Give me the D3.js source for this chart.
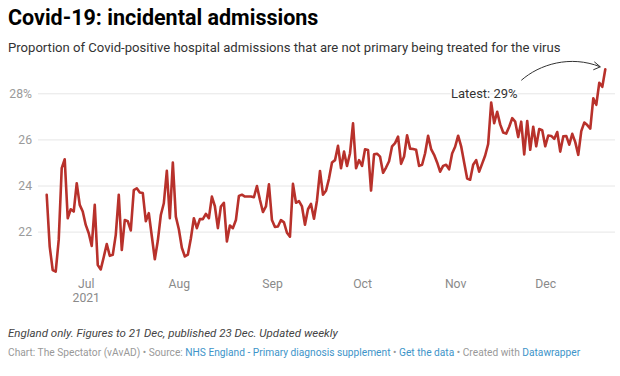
<!DOCTYPE html>
<html>
<head>
<meta charset="utf-8">
<script src="https://cdn.jsdelivr.net/npm/d3@7"></script>
<style>
  html, body { margin: 0; padding: 0; background: #fff; }
  svg { display: block; font-family: Roboto, "Noto Sans", sans-serif; }
</style>
</head>
<body>
<svg id="chart" width="620" height="376"></svg>
<script>
// ---- Data ----
const startDate = "2021-06-18"; // first daily observation
const values = [
  23.6, 21.35, 20.33, 20.26, 21.64, 24.75, 25.14, 22.58, 22.97, 22.87,
  24.1, 23.16, 22.87, 22.29, 21.93, 21.38, 23.16, 20.55, 20.36, 20.9,
  21.46, 20.95, 20.99, 21.86, 23.6, 21.2, 22.5, 22.45, 22.05, 23.8,
  23.88, 23.7, 23.67, 22.45, 22.8, 21.8, 20.8, 21.6, 22.72, 23.23,
  24.64, 22.58, 25.0, 22.65, 22.1, 21.3, 20.92, 21.0, 21.7, 22.58,
  22.15, 22.54, 22.54, 22.77, 22.58, 23.52, 23.1, 22.15, 23.09, 23.25,
  21.57, 22.26, 22.15, 22.5, 23.55, 23.6, 23.52, 23.52, 23.52, 23.49,
  23.98, 23.38, 22.85, 23.09, 24.05, 22.5, 22.2, 22.22, 22.5, 22.4,
  21.95, 21.78, 24.07, 23.25, 23.32, 23.09, 22.3, 22.97, 23.2, 22.56,
  23.35, 24.63, 23.6, 23.77, 24.3, 25.0, 25.1, 25.72, 24.75, 25.47,
  24.85, 25.4, 26.7, 24.75, 25.1, 24.85, 25.57, 25.54, 23.78, 25.35,
  25.38, 25.25, 24.55, 24.78, 25.05, 25.7, 25.84, 26.12, 24.94, 25.26,
  26.18, 25.6, 25.58, 25.55, 24.85, 24.9, 25.4, 26.16, 25.58, 25.33,
  25.0, 24.6, 24.85, 24.9, 24.7, 25.39, 25.68, 26.16, 25.7, 25.0,
  24.3, 24.25, 24.9, 25.1, 24.6, 24.95, 25.3, 25.8, 27.6, 26.7,
  27.2, 26.65, 26.3, 26.25, 26.55, 26.92, 26.77, 26.1, 26.77, 25.35,
  26.8, 25.55, 26.55, 25.7, 26.45, 26.4, 25.7, 26.17, 26.15, 26.02,
  26.32, 25.47, 26.13, 26.15, 25.77, 26.24, 25.88, 25.33, 26.36, 26.73,
  26.62, 26.47, 27.78, 27.5, 28.46, 28.28, 29.04
];
const yTicks = [22, 24, 26, 28];
const xTickMonths = ["2021-07-01", "2021-08-01", "2021-09-01", "2021-10-01", "2021-11-01", "2021-12-01"];
const xTickLabels = ["Jul", "Aug", "Sep", "Oct", "Nov", "Dec"];
const yearLabel = "2021";
const annotationText = "Latest: 29%";

const title = "Covid-19: incidental admissions";
const subtitle = "Proportion of Covid-positive hospital admissions that are not primary being treated for the virus";
const note = "England only. Figures to 21 Dec, published 23 Dec. Updated weekly";

// ---- Build ----
const parse = d3.utcParse("%Y-%m-%d");
const t0 = parse(startDate);
const data = values.map((v, i) => ({ date: d3.utcDay.offset(t0, i), value: v }));

const svg = d3.select("#chart");
svg.append("rect").attr("width", 620).attr("height", 376).attr("fill", "#fff");

const x = d3.scaleUtc()
  .domain([data[0].date, data[data.length - 1].date])
  .range([46.7, 605.3]);
const y = d3.scaleLinear().domain([20, 28]).range([277.7, 93.3]);

// Header
svg.append("text").attr("x", 8).attr("y", 25)
  .attr("font-size", 21.5).attr("font-weight", 700).attr("fill", "#000")
  .text(title);
svg.append("text").attr("x", 8).attr("y", 52)
  .attr("font-size", 13.1).attr("fill", "#333")
  .text(subtitle);

// Y grid + labels
const yAxis = d3.axisLeft(y).tickValues(yTicks)
  .tickSize(-577).tickPadding(6)
  .tickFormat(d => d === 28 ? d + "%" : d);
const gy = svg.append("g").attr("transform", "translate(38,0)").call(yAxis);
gy.select(".domain").remove();
gy.selectAll(".tick line").attr("stroke", "#e6e6e6").attr("stroke-width", 1);
gy.selectAll(".tick text").attr("fill", "#9a9a9a").attr("font-size", 12.2)
  .attr("font-family", "Roboto, sans-serif");

// X axis labels
const monthDates = xTickMonths.map(parse);
const xAxis = d3.axisBottom(x).tickValues(monthDates).tickSize(0).tickPadding(0)
  .tickFormat((d, i) => xTickLabels[i]);
const gx = svg.append("g").attr("transform", "translate(0,277)").call(xAxis);
gx.select(".domain").remove();
gx.selectAll(".tick text").attr("fill", "#8a8a8a").attr("font-size", 12.2)
  .attr("font-family", "Roboto, sans-serif").attr("dy", null).attr("y", 11);
gx.selectAll(".tick").filter((d, i) => i === 0).select("text")
  .append("tspan").attr("x", 0).attr("dy", 14).text(yearLabel);

// Line
const line = d3.line().x(d => x(d.date)).y(d => y(d.value)).curve(d3.curveLinear);
svg.append("path").datum(data)
  .attr("d", line)
  .attr("fill", "none")
  .attr("stroke", "#b8312b")
  .attr("stroke-width", 2.6)
  .attr("stroke-linejoin", "round")
  .attr("stroke-linecap", "round");

// Annotation anchored to last point
const last = data[data.length - 1];
const lx = x(last.date), ly = y(last.value);
const tipX = lx - 5, tipY = ly - 2.5;
const startX = lx - 84, startY = ly + 11;
svg.append("path")
  .attr("d", `M${startX},${startY} C${startX + 18},${startY - 16} ${tipX - 30},${tipY - 12} ${tipX},${tipY}`)
  .attr("fill", "none").attr("stroke", "#333").attr("stroke-width", 1);
svg.append("path")
  .attr("d", `M${tipX - 6},${tipY - 5} L${tipX},${tipY} L${tipX - 7},${tipY + 3}`)
  .attr("fill", "none").attr("stroke", "#333").attr("stroke-width", 1);
svg.append("text")
  .attr("x", lx - 121).attr("y", y(28) + 4.5)
  .attr("text-anchor", "middle")
  .attr("font-size", 13).attr("fill", "#333")
  .attr("stroke", "#fff").attr("stroke-width", 3).attr("paint-order", "stroke")
  .text(annotationText);

// Footer
svg.append("text").attr("x", 8).attr("y", 337)
  .attr("font-size", 11.5).attr("font-style", "italic").attr("fill", "#444")
  .text(note);
const src = svg.append("text").attr("x", 8).attr("y", 356).attr("font-size", 10.2);
const parts = [
  ["Chart: The Spectator (vAvAD) • Source: ", "#999"],
  ["NHS England - Primary diagnosis supplement", "#3d94c9"],
  [" • ", "#999"],
  ["Get the data", "#3d94c9"],
  [" • Created with ", "#999"],
  ["Datawrapper", "#3d94c9"]
];
parts.forEach(([t, c]) => src.append("tspan").attr("fill", c).text(t));
</script>
</body>
</html>
